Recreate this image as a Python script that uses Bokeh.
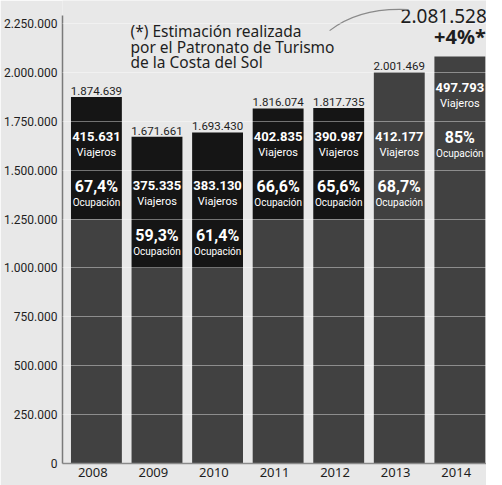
import math
from bokeh.plotting import figure
from bokeh.models import ColumnDataSource, FixedTicker, Range1d, FactorRange
from bokeh.core.properties import value
from bokeh.transform import dodge
from bokeh.embed import file_html
from bokeh.resources import INLINE

# ---------------- data ----------------
years = ["2008", "2009", "2010", "2011", "2012", "2013", "2014"]
totals = [1874639, 1671661, 1693430, 1816074, 1817735, 2001469, 2081528]
total_labels = ["1.874.639", "1.671.661", "1.693.430", "1.816.074",
                "1.817.735", "2.001.469", "2.081.528"]
viajeros = ["415.631", "375.335", "383.130", "402.835", "390.987", "412.177", "497.793"]
ocupacion = ["67,4%", "59,3%", "61,4%", "66,6%", "65,6%", "68,7%", "85%"]
boxed_years = ["2008", "2009", "2010", "2011", "2012"]
estimated_year = "2014"
growth_label = "+4%*"
y_ticks = [0, 250000, 500000, 750000, 1000000, 1250000, 1500000, 1750000, 2000000, 2250000]
y_tick_labels = ["0", "250.000", "500.000", "750.000", "1.000.000", "1.250.000",
                 "1.500.000", "1.750.000", "2.000.000", "2.250.000"]
note_lines = ["(*) Estimación realizada", "por el Patronato de Turismo", "de la Costa del Sol"]

# ---------------- derived layout ----------------
step = 250000
gap = 25000
bands = [math.floor((t - gap) / step) - 1 for t in totals]   # band holding "Viajeros"
y_via = [(b + 0.5) * step for b in bands]
y_ocu = [(b - 0.5) * step for b in bands]
lower_top = [((b - 1) * step if y in boxed_years else t) for y, t, b in zip(years, totals, bands)]

BG = "#e8e8e8"
GRAY = "#414141"
BLACK = "#151515"
INK = "#1e1e1e"
NARROW = "Roboto"
SHIFT = 0.06
BAR_W = 0.84

p = figure(width=486, height=485, x_range=FactorRange(*years, range_padding=0),
           y_range=Range1d(0, 2368000), output_backend="svg", toolbar_location=None,
           min_border_left=56, min_border_right=0, min_border_top=0, min_border_bottom=22)
p.background_fill_color = BG
p.border_fill_color = BG
p.outline_line_color = None

src = ColumnDataSource(dict(x=years, total=totals, lower=lower_top, lab=total_labels,
                            via=viajeros, ocu=ocupacion, yv=y_via, yo=y_ocu))
X = dodge("x", SHIFT, range=p.x_range)

p.vbar(x=X, top="lower", bottom=0, width=BAR_W, source=src, fill_color=GRAY, line_color=None)
boxed = ColumnDataSource(dict(x=[y for y in years if y in boxed_years],
                              top=[t for y, t in zip(years, totals) if y in boxed_years],
                              bottom=[l for y, l in zip(years, lower_top) if y in boxed_years]))
p.vbar(x=X, top="top", bottom="bottom", width=BAR_W, source=boxed, fill_color=BLACK, line_color=None)

# in-bar texts
p.text(x=X, y="yv", text="via", source=src, text_color="white", text_align="center",
       text_baseline="middle", y_offset=-9, text_font=value(NARROW), text_font_style="bold",
       text_font_size="13px")
p.text(x=X, y="yv", text=value("Viajeros"), source=src, text_color="white", text_align="center",
       text_baseline="middle", y_offset=7, text_font=value(NARROW), text_font_size="11px")
p.text(x=X, y="yo", text="ocu", source=src, text_color="white", text_align="center",
       text_baseline="middle", y_offset=-8, text_font=value(NARROW), text_font_style="bold",
       text_font_size="16px")
p.text(x=X, y="yo", text=value("Ocupación"), source=src, text_color="white", text_align="center",
       text_baseline="middle", y_offset=8, text_font=value(NARROW), text_font_size="10px")

# totals above bars
reg = ColumnDataSource(dict(x=[y for y in years if y != estimated_year],
                            y=[t for y, t in zip(years, totals) if y != estimated_year],
                            lab=[l for y, l in zip(years, total_labels) if y != estimated_year]))
p.text(x=X, y="y", text="lab", source=reg, text_color=INK, text_align="center",
       text_baseline="bottom", y_offset=-2, text_font=value(NARROW), text_font_size="11.5px")
ei = years.index(estimated_year)
est = ColumnDataSource(dict(x=[estimated_year], y=[totals[ei]], lab=[total_labels[ei]], g=[growth_label]))
p.text(x=X, y="y", text="lab", source=est, text_color=INK, text_align="right",
       text_baseline="middle", x_offset=27, y_offset=-41, text_font=value("Noto Sans"),
       text_font_size="19px")
p.text(x=X, y="y", text="g", source=est, text_color=INK, text_align="right",
       text_baseline="middle", x_offset=26, y_offset=-20, text_font=value("Noto Sans"),
       text_font_style="bold", text_font_size="20px")

# note + connector curve
p.text(x=[1.123] * 3, y=[2209500, 2132700, 2056000], text=note_lines,
       text_baseline="alphabetic", text_align="left",
       text_font=value("Noto Sans"), text_font_size="15.5px", text_color=INK)
p.quadratic(x0=[4.41], y0=[2214000], x1=[5.71], y1=[2322000], cx=[4.90], cy=[2334000],
            line_color="#8a8a8a", line_width=1.2)

# axes / grid
p.ygrid.ticker = FixedTicker(ticks=y_ticks)
p.ygrid.grid_line_color = "white"
p.ygrid.grid_line_alpha = 0.4
p.ygrid.level = "overlay"
p.xgrid.grid_line_color = None

p.yaxis.ticker = FixedTicker(ticks=y_ticks)
p.yaxis.major_label_overrides = {t: l for t, l in zip(y_ticks, y_tick_labels)}
p.yaxis.bounds = (0, 2290000)
p.yaxis.major_tick_line_color = None
p.yaxis.minor_tick_line_color = None
p.yaxis.major_tick_out = 0
p.yaxis.major_tick_in = 0
p.yaxis.axis_line_color = "#7a7a7a"
p.yaxis.axis_line_width = 1.5
p.yaxis.major_label_standoff = 5
p.yaxis.major_label_text_font = NARROW
p.yaxis.major_label_text_font_size = "12px"
p.yaxis.major_label_text_color = INK

p.xaxis.major_tick_line_color = None
p.xaxis.minor_tick_line_color = None
p.xaxis.major_tick_out = 0
p.xaxis.major_tick_in = 0
p.xaxis.axis_line_color = "#8a8a8a"
p.xaxis.axis_line_width = 1.5
p.xaxis.major_label_standoff = 4
p.xaxis.major_label_text_font = "Noto Sans"
p.xaxis.major_label_text_font_size = "13px"
p.xaxis.major_label_text_color = INK

open("out.html", "w").write(file_html(p, INLINE))
